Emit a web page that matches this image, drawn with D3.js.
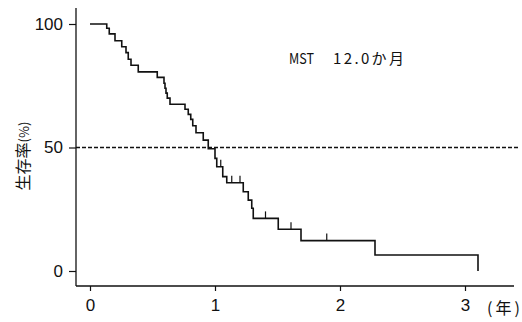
<!DOCTYPE html>
<html>
<head>
<meta charset="utf-8">
<script src="https://cdn.jsdelivr.net/npm/d3@7"></script>
<style>
  body { margin: 0; background: #fff; }
  svg { display: block; }
  .tick text { font-family: "Liberation Sans", Arial, sans-serif; font-size: 17px; fill: #111; }
  .tick line { stroke: #111; stroke-width: 1.2; }
</style>
</head>
<body>
<svg id="chart" width="522" height="322"></svg>
<script>
// survival curve (years, %)
const stepTimes = [0, 0.134, 0.154, 0.2, 0.254, 0.288, 0.306, 0.328, 0.386, 0.538, 0.592, 0.6, 0.608, 0.618, 0.64,
  0.76, 0.786, 0.806, 0.822, 0.848, 0.906, 0.946, 1.0, 1.014, 1.062, 1.094, 1.226, 1.266, 1.294, 1.306,
  1.506, 1.688, 2.28, 3.104];
const stepSurv = [100, 98.3, 96, 93.2, 90.8, 88.4, 85.7, 83.3, 80.6, 78.4, 76, 74, 72, 70, 67.5,
  65.5, 63.4, 61.4, 58.8, 56, 53, 49.5, 45.6, 42.2, 38.2, 35.7, 32.1, 28.7, 25.4, 21.3,
  16.9, 12.3, 6.5, 0];
// censored marks
const censorTimes = [1.046, 1.134, 1.2, 1.404, 1.608, 1.894];
const censorSurv = [42.2, 35.7, 35.7, 21.3, 16.9, 12.3];

const xTicks = [0, 1, 2, 3];
const yTicks = [0, 50, 100];
const medianLine = 50;
const mstLabel = ["MST", "12.0か月"];
const yTitle = "生存率";
const xUnit = "(年)";

const svg = d3.select("#chart");

const x = d3.scaleLinear().domain([0, 3]).range([90, 465]);
const y = d3.scaleLinear().domain([0, 100]).range([271, 24]);

// axes lines (longer than the domain, like the original)
svg.append("line")
  .attr("x1", 76).attr("x2", 76).attr("y1", 8).attr("y2", 286)
  .attr("stroke", "#111").attr("stroke-width", 1.3);
svg.append("line")
  .attr("x1", 76).attr("x2", 514).attr("y1", 286).attr("y2", 286)
  .attr("stroke", "#111").attr("stroke-width", 1.6);

const yAxis = svg.append("g")
  .attr("transform", "translate(76,0)")
  .call(d3.axisLeft(y).tickValues(yTicks).tickSize(7).tickPadding(6));
yAxis.select(".domain").remove();

const xAxis = svg.append("g")
  .attr("transform", "translate(0,286)")
  .call(d3.axisBottom(x).tickValues(xTicks).tickFormat(d3.format("d")).tickSize(5).tickPadding(8));
xAxis.select(".domain").remove();

// unit label
svg.append("text")
  .attr("x", 487).attr("y", 314)
  .attr("textLength", 33).attr("lengthAdjust", "spacing")
  .style("font-family", "'Noto Sans CJK JP', sans-serif")
  .style("font-size", "16px")
  .attr("fill", "#111")
  .text(xUnit);

// y title
const yt = svg.append("text")
  .attr("transform", "translate(29,156) rotate(-90)")
  .attr("text-anchor", "middle")
  .style("font-family", "'Noto Sans CJK JP', sans-serif")
  .attr("fill", "#111");
yt.append("tspan").style("font-size", "16px").text(yTitle);
yt.append("tspan").style("font-size", "13px").text("(%)");

// median dashed line
svg.append("line")
  .attr("x1", 76).attr("x2", 518)
  .attr("y1", y(medianLine)).attr("y2", y(medianLine))
  .attr("stroke", "#111").attr("stroke-width", 1.4)
  .attr("stroke-dasharray", "4,2");

// KM step curve
const pts = stepTimes.map((t, i) => ({ t: t, s: stepSurv[i] }));
const line = d3.line().x(d => x(d.t)).y(d => y(d.s)).curve(d3.curveStepAfter);
svg.append("path")
  .datum(pts)
  .attr("d", line)
  .attr("fill", "none")
  .attr("stroke", "#111")
  .attr("stroke-width", 1.6);

// censor ticks
svg.selectAll(".cens")
  .data(censorTimes.map((t, i) => ({ t: t, s: censorSurv[i] })))
  .enter().append("line")
  .attr("class", "cens")
  .attr("x1", d => x(d.t)).attr("x2", d => x(d.t))
  .attr("y1", d => y(d.s)).attr("y2", d => y(d.s) - 7)
  .attr("stroke", "#111").attr("stroke-width", 1.2);

// MST label
svg.append("text")
  .attr("x", 289).attr("y", 64)
  .attr("textLength", 25).attr("lengthAdjust", "spacingAndGlyphs")
  .style("font-family", "'Noto Sans CJK JP', sans-serif")
  .style("font-size", "15px")
  .attr("fill", "#111")
  .text(mstLabel[0]);
svg.append("text")
  .attr("x", 333).attr("y", 64)
  .attr("textLength", 71).attr("lengthAdjust", "spacing")
  .style("font-family", "'Noto Sans CJK JP', sans-serif")
  .style("font-size", "15px")
  .attr("fill", "#111")
  .text(mstLabel[1]);
</script>
</body>
</html>
